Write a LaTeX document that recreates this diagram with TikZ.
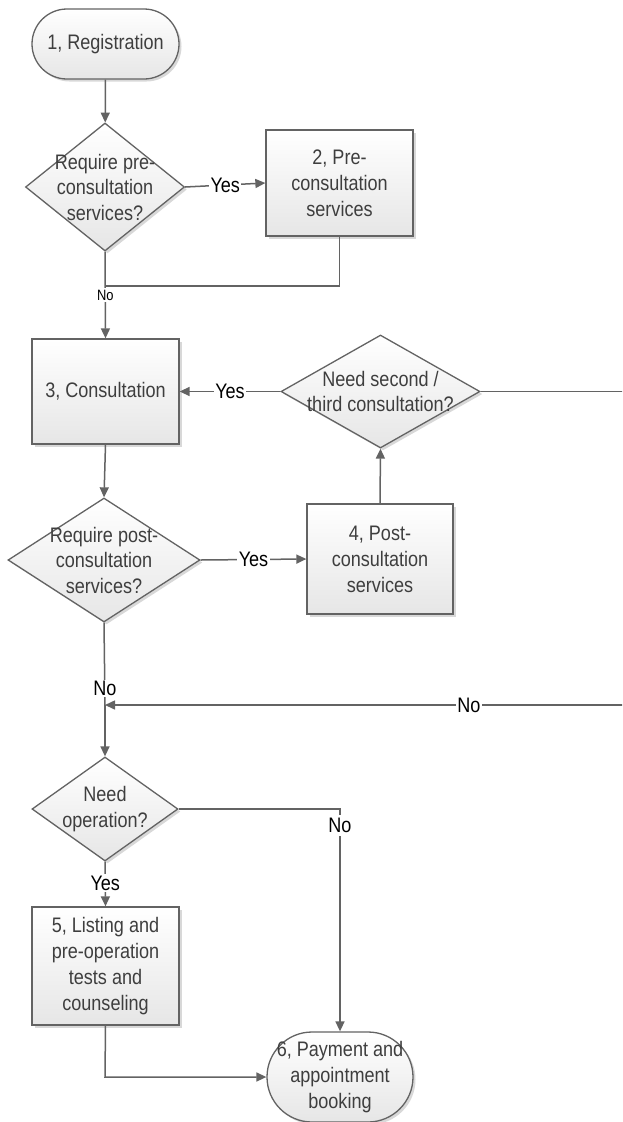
\documentclass[tikz,border=0pt]{standalone}
\usepackage{fontspec}
\setmainfont{Liberation Sans}
\newfontfamily\diafont[FakeStretch=0.86]{Liberation Sans}
\usetikzlibrary{arrows.meta,shapes.geometric,shadows}
\definecolor{linec}{HTML}{636363}
\definecolor{fillc}{HTML}{E6E6E6}
\definecolor{txtc}{HTML}{3E3E3E}
\begin{document}
\begin{tikzpicture}[x=1pt,y=-1pt,
  base/.style={draw=linec, line width=1.3pt, top color=white, bottom color=fillc,
    text=txtc, font=\diafont\fontsize{21}{26}\selectfont, align=center, inner sep=0pt,
    drop shadow={shadow xshift=2.5pt, shadow yshift=-2.5pt, opacity=0.3}},
  procbox/.style={base, rectangle},
  termbox/.style={base, rectangle, rounded corners=#1},
  decbox/.style={base, diamond, inner sep=0pt},
  dtext/.style={text=txtc, font=\diafont\fontsize{21}{25.5}\selectfont, align=center},
  flow/.style={draw=linec, line width=1.5pt, -{Triangle[length=10pt,width=9pt]}},
  plain/.style={draw=linec, line width=1.5pt},
  lbl/.style={fill=white, text=black, font=\diafont\fontsize{21}{22}\selectfont, inner sep=1.5pt},
  lblsmall/.style={lbl, font=\diafont\fontsize{15}{16}\selectfont, inner sep=2pt}]

\clip (0,0) rectangle (622,1122);
\fill[white] (0,0) rectangle (622,1122);

% process nodes
\node[termbox=35pt, minimum width=147pt, minimum height=70pt] (reg) at (105.5,44) {1, Registration};
\node[decbox, minimum width=159pt, minimum height=128pt,
      label={[dtext]center:{Require pre-\\consultation\\services?}}] (d1) at (105,187) {};
\node[procbox, minimum width=147pt, minimum height=106pt] (pre) at (339.5,183) {2, Pre-\\consultation\\services};
\node[procbox, minimum width=147pt, minimum height=105pt] (cons) at (105.5,391.5) {3, Consultation};
\node[decbox, minimum width=199pt, minimum height=113pt,
      label={[dtext]center:{Need second /\\third consultation?}}] (d3) at (380.5,391.5) {};
\node[decbox, minimum width=192pt, minimum height=124pt,
      label={[dtext]center:{Require post-\\consultation\\services?}}] (d2) at (104,560) {};
\node[procbox, minimum width=146pt, minimum height=110pt] (post) at (380,559) {4, Post-\\consultation\\services};
\node[decbox, minimum width=146pt, minimum height=104pt,
      label={[dtext]center:{Need\\operation?}}] (d4) at (105,809) {};
\node[procbox, minimum width=147pt, minimum height=118pt] (list) at (105.5,966) {5, Listing and\\pre-operation\\tests and\\counseling};
\node[termbox=45pt, minimum width=146pt, minimum height=90pt] (pay) at (340,1077) {6, Payment and\\appointment\\booking};

% routing points
\coordinate (j1) at (105,286);
\coordinate (m) at (105,705);
\coordinate (r1) at (640,391.5);
\coordinate (r2) at (640,705);
\coordinate (k1) at (340,809);
\coordinate (k2) at (105,1077);

% connectors
\draw[flow] (reg) -- (d1);
\draw[flow] (d1.east) -- node[lbl]{Yes} (pre.west);
\draw[plain] (pre.south) |- (j1);
\draw[flow] (d1.south) -- node[lblsmall, pos=0.5]{No} (cons.north);
\draw[flow] (d3.west) -- node[lbl]{Yes} (cons.east);
\draw[flow] (cons.south) -- (d2.north);
\draw[flow] (d2.east) -- node[lbl]{Yes} (post.west);
\draw[flow] (post.north) -- (d3.south);
\draw[plain] (d2.south) -- node[lbl, pos=0.8]{No} (m);
\draw[flow] (d3.east) -- (r1) -- (r2) -- node[lbl, pos=0.32]{No} (m);
\draw[flow] (m) -- (d4.north);
\draw[flow] (d4.east) -- (k1) -- node[lbl, pos=0.075, inner sep=3pt]{No} (pay.north);
\draw[flow] (d4.south) -- node[lbl, pos=0.48]{Yes} (list.north);
\draw[flow] (list.south) -- (k2) -- (pay.west);
\end{tikzpicture}
\end{document}
